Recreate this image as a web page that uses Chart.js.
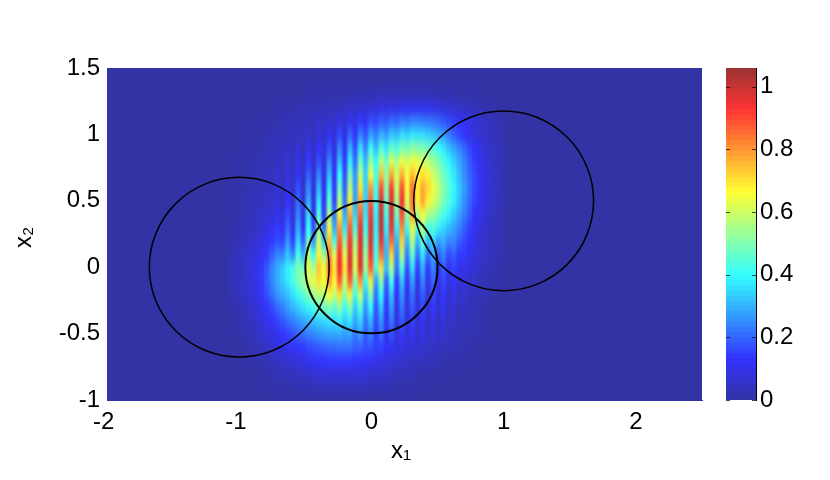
<!DOCTYPE html>
<html>
<head>
<meta charset="utf-8">
<script src="https://cdn.jsdelivr.net/npm/chart.js@4"></script>
<style>
html,body{margin:0;padding:0;background:#fff;}
#wrap{position:relative;width:830px;height:480px;overflow:hidden;}
#wrap canvas{position:absolute;left:0;top:0;}
#heat_box{position:absolute;left:107px;top:68px;width:595px;height:332px;overflow:hidden;background:#3333a5;}
#heat{filter:url(#soft);}
</style>
</head>
<body>
<svg width="0" height="0" style="position:absolute"><filter id="soft" x="0" y="0" width="100%" height="100%" color-interpolation-filters="sRGB"><feGaussianBlur stdDeviation="1.1 5"/></filter></svg>
<div id="wrap">
  <div id="heat_box"><canvas id="heat" width="595" height="332"></canvas></div>
  <canvas id="axes" width="830" height="480"></canvas>
  <canvas id="bar" width="830" height="480"></canvas>
</div>
<script>
// cell centres, x1 follows the fringes: peak, trough, peak, ...
var cell_x = [-1.022,-0.983,-0.943,-0.904,-0.864,-0.825,-0.786,-0.747,-0.707,-0.668,-0.628,-0.589,-0.550,-0.511,-0.472,-0.432,-0.393,-0.354,-0.314,-0.275,-0.236,-0.196,-0.157,-0.118,-0.079,-0.039,0,
  0.039,0.079,0.118,0.157,0.196,0.236,0.275,0.314,0.354,0.393,0.432,0.472,0.511,0.550,0.589,0.628,0.668,0.707,0.747,0.786,0.825,0.864,0.904,0.943];
var cell_y = [1.3,1.2,1.1,1,0.9,0.8,0.7,0.6,0.5,0.4,0.3,0.2,0.1,0,-0.1,-0.2,-0.3,-0.4,-0.5,-0.6,-0.7,-0.8,-0.9];
// intensity x 100, one row per cell_y
var peak_rows = [
[0,0,0,0,0,0,0,1,1,1,1,2,2,2,3,3,3,3,3,3,2,2,1,1,0,0],
[0,0,0,0,1,1,2,3,3,4,5,6,7,8,9,10,11,11,11,10,8,6,5,4,2,1],
[0,0,1,1,2,3,3,4,6,7,9,11,14,17,19,21,23,24,23,22,18,15,11,8,5,3],
[0,1,1,2,3,3,5,6,8,12,16,20,24,28,30,33,36,37,36,32,27,19,13,8,5,3],
[0,1,1,3,5,6,7,10,13,17,24,30,36,41,44,47,50,52,50,45,37,28,20,13,7,4],
[1,1,3,3,5,7,10,14,17,24,31,38,47,53,58,62,64,65,62,54,44,34,24,14,8,4],
[1,1,3,4,6,8,13,19,24,31,40,49,58,66,75,78,77,75,70,60,48,37,25,16,9,5],
[1,2,3,5,7,11,17,24,30,38,48,58,70,80,90,92,90,85,78,64,51,39,27,16,9,5],
[1,3,4,5,8,13,20,29,37,46,56,68,78,88,97,98,95,85,78,62,49,38,25,15,8,4],
[1,2,4,7,11,16,24,35,44,55,67,78,88,93,100,98,90,78,66,53,42,33,23,13,7,3],
[1,3,5,9,14,20,29,40,51,66,80,88,95,97,100,95,82,68,57,44,35,28,19,11,6,3],
[2,4,7,11,17,26,35,47,60,75,88,93,97,97,95,85,72,57,46,35,29,24,16,10,5,3],
[3,6,9,14,24,32,43,56,68,83,93,97,97,93,85,72,57,46,37,29,24,19,14,8,5,3],
[3,6,10,18,29,38,50,62,74,85,95,97,97,88,70,56,44,35,29,24,19,15,10,7,4,2],
[3,6,10,19,29,37,48,60,70,80,88,88,80,68,51,42,32,27,24,20,16,13,9,6,3,1],
[3,5,9,17,26,32,41,50,58,66,70,68,60,51,40,32,26,22,19,16,14,10,7,4,3,1],
[1,4,8,13,20,27,33,39,45,50,52,50,44,39,32,27,22,18,16,14,12,8,5,3,1,0],
[1,3,6,10,15,21,26,30,34,37,38,37,34,30,26,22,18,15,13,10,8,6,4,3,1,0],
[0,2,4,8,11,15,19,23,26,28,29,28,27,24,21,17,14,12,9,8,7,5,3,2,1,0],
[0,1,3,5,8,11,13,16,18,20,21,21,19,17,15,12,9,8,7,5,4,3,2,1,0,0],
[0,0,1,3,5,6,8,11,13,14,14,14,13,12,9,8,6,4,4,3,2,1,1,0,0,0],
[0,0,0,1,3,4,4,6,7,8,8,8,7,6,6,4,3,3,1,1,0,0,0,0,0,0],
[0,0,0,0,1,1,2,2,3,3,3,3,3,2,2,2,1,1,0,0,0,0,0,0,0,0]
];
var trough_rows = [
[0,0,0,0,0,0,0,1,1,1,1,2,2,2,3,3,3,3,3,2,2,1,1,0,0],
[0,0,0,0,1,1,2,2,3,3,4,5,6,7,8,9,10,11,10,9,7,5,4,3,1],
[0,0,1,1,2,2,3,3,4,5,7,9,12,16,18,20,22,24,22,20,16,13,9,6,4],
[0,1,1,2,2,3,3,4,5,7,9,13,18,23,27,31,34,36,34,30,23,16,10,6,4],
[0,1,1,2,3,3,3,5,7,9,12,17,24,31,37,43,47,50,47,41,32,24,16,10,5],
[1,1,2,3,3,4,5,6,8,10,14,21,31,40,48,55,60,63,58,49,39,29,19,11,6],
[1,1,2,3,4,4,5,7,9,12,17,26,34,42,52,60,65,68,68,55,43,31,20,12,7],
[1,2,3,4,4,5,6,8,10,14,19,27,34,42,50,58,65,68,72,58,45,33,21,12,7],
[1,3,4,5,5,6,7,9,12,15,22,28,34,40,47,55,62,68,68,56,44,32,20,11,6],
[1,3,5,7,7,7,9,12,15,22,28,34,37,38,42,47,52,55,55,48,38,28,18,10,5],
[2,4,6,11,11,10,12,17,22,29,37,42,40,38,38,38,40,42,42,38,31,24,15,8,4],
[3,5,9,14,15,15,19,26,34,42,52,53,47,40,33,30,30,30,30,27,24,19,13,7,4],
[4,7,11,19,24,24,30,41,52,62,62,60,52,42,30,25,23,22,21,19,16,14,10,6,4],
[4,8,14,24,33,42,47,55,65,70,70,62,55,45,32,22,17,15,14,13,11,10,8,5,3],
[4,8,14,24,33,43,54,63,65,67,60,50,40,27,19,14,12,11,10,9,8,6,4,2,1],
[4,7,13,21,29,36,45,54,58,58,52,42,32,22,16,12,10,9,8,7,6,4,3,2,1],
[2,6,10,16,23,30,36,42,47,45,40,33,26,18,13,10,8,7,6,6,5,3,2,1,0],
[2,4,8,12,18,23,28,32,35,36,33,28,22,16,11,8,7,6,5,5,3,2,2,1,0],
[1,3,6,9,13,17,21,24,27,28,27,22,18,14,10,7,6,5,5,4,3,2,1,1,0],
[0,2,4,6,9,12,14,17,19,20,21,19,17,15,12,9,7,6,4,3,3,2,1,0,0],
[0,1,2,4,5,7,9,12,13,14,14,13,12,10,8,6,4,4,3,2,1,1,0,0,0],
[0,0,0,2,3,4,5,6,7,8,8,8,7,6,5,3,3,1,1,0,0,0,0,0,0],
[0,0,0,0,1,1,2,2,3,3,3,3,3,2,2,1,1,0,0,0,0,0,0,0,0]
];
// faint rim just outside the grid on either side
var rim_left_x = -1.061;
var rim_right_x = 0.983;
var rim_left = [0,0,0,0,0,0,0,1,1,1,1,1,2,2,2,2,1,0,0,0,0,0,0];
var rim_right = [0,0,2,2,3,3,3,3,3,2,2,2,2,1,1,0,0,0,0,0,0,0,0];
var circle_x = [-1, 0, 1];
var circle_y = [0, 0, 0.5];
var circle_r = [0.68, 0.5, 0.68];
var circle_w = [1.5, 2, 1.5];
var x_ticks = [-2, -1, 0, 1, 2];
var colorbar_top = [0.017,0.033,0.050,0.066,0.083,0.099,0.116,0.133,0.149,0.166,0.182,0.199,0.215,0.232,0.248,0.265,0.282,0.298,0.315,0.331,0.348,0.364,0.381,0.398,0.414,0.431,0.447,0.464,0.480,0.497,0.513,0.530,0.547,0.563,0.580,0.596,0.613,0.629,0.646,0.663,0.679,0.696,0.712,0.729,0.745,0.762,0.778,0.795,0.812,0.828,0.845,0.861,0.878,0.894,0.911,0.928,0.944,0.961,0.977,0.994,1.010,1.027,1.043,1.06];
var c_max = 1.06;

// jet, faded 20% towards white like the original
var jet_pos = [0, 0.125, 0.375, 0.625, 0.875, 1];
var jet_rgb = [[0,0,143],[0,0,255],[0,255,255],[255,255,0],[255,0,0],[128,0,0]];
function jet(v){
    var f = Math.min(1, Math.max(0, v / c_max));
    var i = 0;
    while(i < jet_pos.length - 2 && f > jet_pos[i + 1]){ i++; }
    var t = (f - jet_pos[i]) / (jet_pos[i + 1] - jet_pos[i]);
    var c = [0, 1, 2].map(function(n){
        return Math.round((jet_rgb[i][n] + (jet_rgb[i + 1][n] - jet_rgb[i][n]) * t) * 0.8 + 51);
    });
    return 'rgb(' + c.join(',') + ')';
}
function plain_tick(v){
    return String(Number(v.toFixed(1)));
}
// keep the plot area where it is, whatever the tick labels measure
function no_pad(s){
    s.paddingTop = 0; s.paddingBottom = 0; s.paddingLeft = 0; s.paddingRight = 0;
}

Chart.defaults.font.family = "'Liberation Sans', Arial, sans-serif";
Chart.defaults.animation = false;
Chart.defaults.responsive = false;
Chart.defaults.plugins.legend.display = false;
Chart.defaults.plugins.tooltip.enabled = false;

var half_row = 0.052;
var all_x = [rim_left_x].concat(cell_x, [rim_right_x]);
var heat_sets = cell_y.map(function(y, r){
    var row_values = cell_x.map(function(x, c){
        return c % 2 === 0 ? peak_rows[r][c / 2] : trough_rows[r][(c - 1) / 2];
    });
    return {
        data: all_x.map(function(x){ return {x: x, y: [y - half_row, y + half_row]}; }),
        backgroundColor: [rim_left[r]].concat(row_values, [rim_right[r]]).map(function(v){ return jet(v / 100); }),
        borderWidth: 0,
        barThickness: 6,
        grouped: false
    };
});
new Chart(document.getElementById('heat'), {
    type: 'bar',
    data: {datasets: heat_sets},
    options: {
        layout: {padding: 0},
        scales: {
            x: {type: 'linear', min: -2, max: 2.5, offset: false, display: false},
            y: {type: 'linear', min: -1, max: 1.5, display: false}
        }
    }
});

// with showLine on, chart.js only pads the plot by the first and last point, so both ends get an empty point
var circle_points = circle_x.map(function(x, i){ return {x: x, y: circle_y[i]}; });
var empty_point = {x: null, y: null};
new Chart(document.getElementById('axes'), {
    type: 'scatter',
    data: {datasets: [{
        data: [empty_point].concat(circle_points, [empty_point]),
        showLine: true,
        borderWidth: 0,
        pointStyle: 'circle',
        pointRadius: [0].concat(circle_r.map(function(r){ return r * 595 / 4.5; }), [0]),
        pointBackgroundColor: 'rgba(0,0,0,0)',
        pointBorderColor: '#000',
        pointBorderWidth: [0].concat(circle_w, [0])
    }]},
    options: {
        layout: {padding: {top: 68, right: 128}},
        scales: {
            x: {
                min: -2, max: 2.5,
                afterFit: function(s){ s.height = 80; no_pad(s); },
                afterBuildTicks: function(s){ s.ticks = x_ticks.map(function(v){ return {value: v}; }); },
                grid: {display: false, drawTicks: false},
                border: {display: true, color: '#3333a5', width: 1, dash: [3, 2]},
                ticks: {
                    color: '#000', padding: 8, maxRotation: 0, font: {size: 24},
                    callback: function(v){ return v < 0 ? v + '\u00a0' : String(v); }
                },
                title: {display: true, text: 'x\u2081\u00a0', color: '#000', font: {size: 24}, padding: {top: 0, bottom: 14}}
            },
            y: {
                min: -1, max: 1.5,
                afterFit: function(s){ s.width = 107; no_pad(s); },
                grid: {display: false, drawTicks: false},
                border: {display: false},
                ticks: {color: '#000', padding: 7, stepSize: 0.5, font: {size: 24}, callback: plain_tick},
                title: {display: true, text: 'x\u2082\u00a0', color: '#000', font: {size: 24}, padding: {top: 10, bottom: 0}}
            }
        }
    }
});

// short inner tick marks on both sides of the colorbar
var inner_ticks = {
    id: 'inner_ticks',
    afterDraw: function(chart){
        var s = chart.scales.y, a = chart.chartArea, g = chart.ctx;
        g.save();
        g.strokeStyle = 'rgba(0,0,0,0.7)';
        g.lineWidth = 1;
        s.ticks.forEach(function(t){
            var y = Math.round(s.getPixelForValue(t.value)) + 0.5;
            g.beginPath();
            g.moveTo(a.left, y); g.lineTo(a.left + 4, y);
            g.moveTo(a.right - 4, y); g.lineTo(a.right, y);
            g.stroke();
        });
        g.restore();
    }
};
new Chart(document.getElementById('bar'), {
    type: 'bar',
    data: {
        labels: ['c'],
        datasets: colorbar_top.map(function(top){
            return {data: [top], backgroundColor: jet(top - 0.008), borderWidth: 0, grouped: false, barPercentage: 1, categoryPercentage: 1};
        })
    },
    options: {
        layout: {padding: {top: 68, left: 726, bottom: 80}},
        scales: {
            x: {display: false},
            y: {
                position: 'right',
                min: 0, max: c_max,
                afterFit: function(s){ s.width = 74; no_pad(s); },
                grid: {display: false, drawTicks: false},
                border: {display: true, color: '#000', width: 1},
                ticks: {color: '#000', padding: 4, stepSize: 0.2, includeBounds: false, font: {size: 24}, callback: plain_tick}
            }
        }
    },
    plugins: [inner_ticks]
});
</script>
</body>
</html>
